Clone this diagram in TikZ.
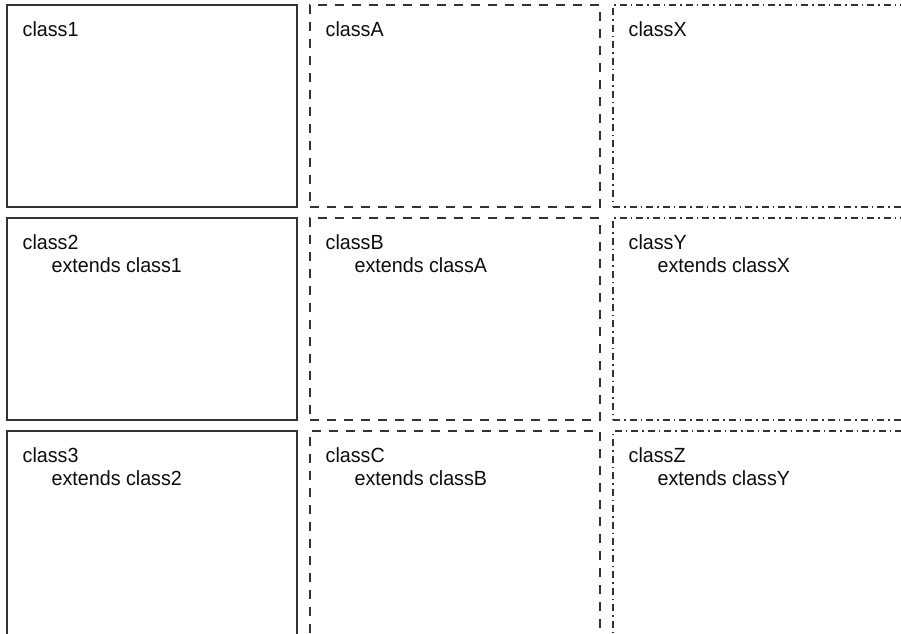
\documentclass[tikz,border=0pt]{standalone}
\usepackage{fontspec}
\setmainfont[FakeStretch=0.96]{Liberation Sans}
\begin{document}
\begin{tikzpicture}[x=1pt,y=-1pt,
  box/.style={draw=black!80, line width=1.2pt, minimum width=290pt, minimum height=202pt, anchor=north west, inner sep=0pt, outer sep=0pt},
  solidbox/.style={box},
  dashbox/.style={box, dash pattern=on 9pt off 8pt},
  dotbox/.style={box, dash pattern=on 7pt off 4pt on 1.5pt off 4pt},
  openbox/.style={minimum height=230pt},
  widebox/.style={minimum width=310pt},
  title/.style={anchor=base west, inner sep=0pt, text=black!95, font=\fontsize{20.5}{22}\selectfont}
]
\clip (0,0) rectangle (901,633);
\fill[white] (0,0) rectangle (901,633);
% column 1
\node[solidbox] (b11) at (7,5) {};
\node[solidbox] (b21) at (7,218) {};
\node[solidbox, openbox] (b31) at (7,431) {};
% column 2
\node[dashbox] (b12) at (310,5) {};
\node[dashbox] (b22) at (310,218) {};
\node[dashbox, openbox] (b32) at (310,431) {};
% column 3
\node[dotbox, widebox] (b13) at (613,5) {};
\node[dotbox, widebox] (b23) at (613,218) {};
\node[dotbox, widebox, openbox] (b33) at (613,431) {};
% texts
\node[title] (t11) at (22.5,36.5) {class1};
\node[title] (t21) at (22.5,249.5) {class2};
\node[title] (e21) at (51.5,272) {extends class1};
\node[title] (t31) at (22.5,462.5) {class3};
\node[title] (e31) at (51.5,485) {extends class2};
\node[title] (t12) at (325.5,36.5) {classA};
\node[title] (t22) at (325.5,249.5) {classB};
\node[title] (e22) at (354.5,272) {extends classA};
\node[title] (t32) at (325.5,462.5) {classC};
\node[title] (e32) at (354.5,485) {extends classB};
\node[title] (t13) at (628.5,36.5) {classX};
\node[title] (t23) at (628.5,249.5) {classY};
\node[title] (e23) at (657.5,272) {extends classX};
\node[title] (t33) at (628.5,462.5) {classZ};
\node[title] (e33) at (657.5,485) {extends classY};
\end{tikzpicture}
\end{document}
